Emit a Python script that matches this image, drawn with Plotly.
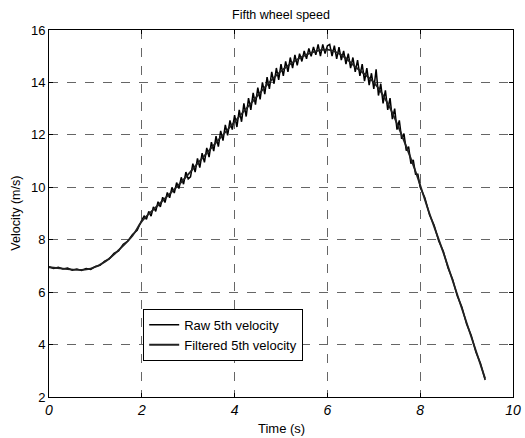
import numpy as np
import plotly.graph_objects as go

# Filtered 5th wheel velocity (smooth)
filt_t = [0.0, 0.3, 0.6, 0.9, 1.2, 1.5, 1.8, 2.0, 2.4, 2.8, 3.2, 3.6, 4.0, 4.4, 4.8,
          5.2, 5.6, 6.0, 6.3, 6.6, 7.0, 7.3, 7.6, 7.9, 8.2, 8.5, 8.8, 9.1, 9.4]
filt_v = [6.95, 6.9, 6.85, 6.9, 7.15, 7.6, 8.15, 8.7, 9.4, 10.1, 10.9, 11.7, 12.5, 13.3, 14.1,
          14.7, 15.1, 15.25, 15.05, 14.6, 14.0, 13.2, 12.0, 10.6, 9.0, 7.5, 5.9, 4.3, 2.7]

# Raw 5th wheel velocity (noisy)
raw_t = ([round(0.1 * i, 2) for i in range(0, 21)]
         + [round(2.0 + 0.05 * i, 2) for i in range(1, 121)]
         + [round(8.0 + 0.1 * i, 2) for i in range(1, 15)])
raw_v = [6.97, 6.9, 6.95, 6.88, 6.92, 6.84, 6.88, 6.83, 6.9, 6.87, 6.98, 7.02, 7.18, 7.27, 7.48,
         7.57, 7.83, 7.95, 8.2, 8.36, 8.75,
         8.9, 8.78, 9.08, 8.9, 9.25, 9.08, 9.45, 9.25, 9.62, 9.42, 9.8, 9.6, 10.0, 9.78, 10.18,
         9.95, 10.38, 10.12, 10.58, 10.32,
         10.4, 10.9, 10.58, 11.1, 10.75, 11.3, 10.95, 11.5, 11.15, 11.72, 11.38, 11.95, 11.55,
         12.15, 11.78, 12.38, 11.98, 12.55, 12.2, 12.75,
         12.3, 12.95, 12.5, 13.2, 12.7, 13.4, 12.95, 13.6, 13.15, 13.8, 13.35, 14.0, 13.55,
         14.2, 13.75, 14.4, 13.95, 14.55, 14.1, 14.7,
         14.25, 14.8, 14.4, 14.95, 14.55, 15.05, 14.65, 15.1, 14.8, 15.2, 14.9, 15.3, 15.0,
         15.35, 15.05, 15.45, 15.0, 15.45, 15.1, 15.4,
         15.45, 15.0, 15.4, 14.9, 15.35, 14.85, 15.2, 14.7, 15.1, 14.55, 14.95, 14.4, 14.85,
         14.25, 14.7, 14.05, 14.55, 13.9, 14.35, 13.75,
         14.5, 13.5, 13.95, 13.2, 13.7, 12.95, 13.4, 12.6, 13.0, 12.2, 12.55, 11.85, 12.05,
         11.4, 11.55, 10.9, 11.05, 10.5, 10.5, 10.0,
         9.6, 8.95, 8.55, 7.95, 7.55, 6.92, 6.48, 5.85, 5.42, 4.78, 4.35, 3.72, 3.28, 2.65]

x_ticks = [0, 2, 4, 6, 8, 10]
y_ticks = [2, 4, 6, 8, 10, 12, 14, 16]

fig = go.Figure()
fig.add_trace(go.Scatter(x=raw_t, y=raw_v, mode="lines", name="Raw 5th velocity",
                         line=dict(color="black", width=1.5)))
fig.add_trace(go.Scatter(x=filt_t, y=filt_v, mode="lines", name="Filtered 5th velocity",
                         line=dict(color="#222", width=1.8, shape="spline")))

axis_common = dict(showline=True, linecolor="black", linewidth=1, mirror="ticks",
                   ticks="inside", ticklen=4, tickcolor="black",
                   showgrid=True, gridcolor="#666", griddash="dash", gridwidth=0.8,
                   zeroline=False, automargin=False)

fig.update_layout(
    width=525, height=438,
    margin=dict(l=49, r=12, t=30, b=41),
    paper_bgcolor="white", plot_bgcolor="white",
    font=dict(family="Liberation Sans, Arial", color="black", size=12),
    title=dict(text="Fifth wheel speed", x=0.5, xref="paper", xanchor="center",
               y=1 - 15 / 438, yref="container", yanchor="middle", font=dict(size=12.5)),
    xaxis=dict(range=[0, 10], tickvals=x_ticks,
               ticktext=["<i>%d</i>" % v for v in x_ticks],
               tickfont=dict(size=14), **axis_common),
    yaxis=dict(range=[2, 16], tickvals=y_ticks, tickfont=dict(size=13), **axis_common),
    legend=dict(x=0.203, y=0.24, xanchor="left", yanchor="top",
                bgcolor="white", bordercolor="black", borderwidth=1,
                font=dict(size=13), tracegroupgap=0, itemwidth=30),
    showlegend=True,
    annotations=[
        dict(text="Time (s)", xref="paper", yref="paper", x=0.5, y=-0.0845,
             xanchor="center", yanchor="middle", showarrow=False, font=dict(size=13)),
        dict(text="Velocity (m/s)", xref="paper", yref="paper", x=-0.073, y=0.5,
             xanchor="center", yanchor="middle", textangle=-90, showarrow=False,
             font=dict(size=12.5)),
    ],
)

fig.write_html("out.html", config={"displayModeBar": False},
               post_script="document.body.style.margin='0';")
